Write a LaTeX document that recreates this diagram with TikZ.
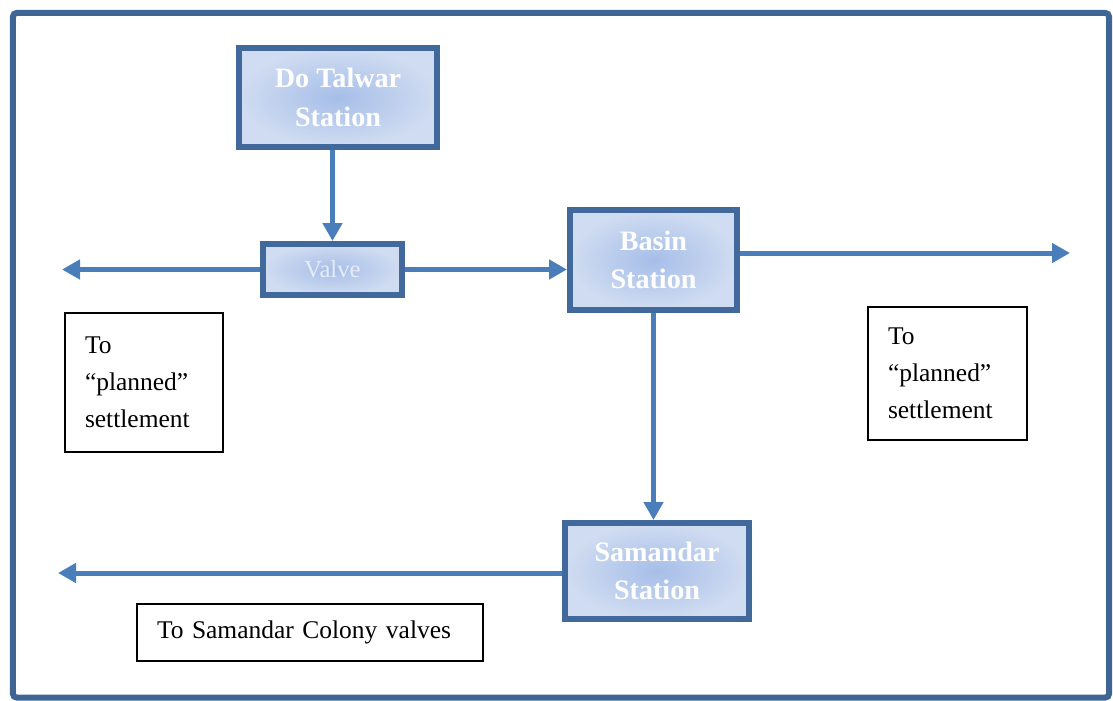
\documentclass[tikz,border=0pt]{standalone}
\usepackage{fontspec}
\setmainfont{Liberation Serif}
\usepackage{xcolor}
\usetikzlibrary{positioning,calc,arrows.meta}

\definecolor{framebl}{HTML}{3F6595}
\definecolor{pipebl}{HTML}{4A7EBB}
\definecolor{edgebl}{HTML}{41699C}
\definecolor{innerbl}{HTML}{A6BEE8}
\definecolor{outerbl}{HTML}{D0DCF1}
\definecolor{valvetxt}{HTML}{E6ECF7}

\tikzset{
    station/.style={draw=edgebl, line width=0.12cm, inner color=innerbl, outer color=outerbl,
        text=white, font=\fontsize{16}{22}\selectfont\bfseries, align=center, inner sep=0pt},
    note/.style={draw=black, line width=0.045cm, font=\fontsize{14.5}{21}\selectfont,
        align=left, inner xsep=0.4cm, inner ysep=0pt},
    pipe/.style={draw=pipebl, line width=0.1cm, -{Triangle[length=0.36cm,width=0.38cm]}},
}

\begin{document}
\begin{tikzpicture}
    \useasboundingbox (0, 0) rectangle (22.26, -14);
    \draw [framebl, line width=0.12cm, rounded corners=2pt] (0.26, -0.26) rectangle (22.18, -13.95); % outer frame

    % stations
    \node [station, minimum width=3.96cm, minimum height=1.98cm] (dotalwar) at (6.76, -1.95) {Do Talwar\\Station};
    \node [station, minimum width=2.78cm, minimum height=1.02cm, font=\fontsize{14}{18}\selectfont, text=valvetxt] (valve) at (6.65, -5.39) {Valve};
    \node [station, minimum width=3.34cm, minimum height=2.0cm] (basin) at (13.07, -5.2) {Basin\\Station};
    \node [station, minimum width=3.68cm, minimum height=1.92cm] (samandar) at (13.14, -11.42) {Samandar\\Station};

    % notes
    \node [note, text width=2.36cm, minimum height=2.78cm] (westnote) at (2.88, -7.65) {To\\``planned''\\settlement};
    \node [note, text width=2.38cm, minimum height=2.66cm] (eastnote) at (18.95, -7.47) {To\\``planned''\\settlement};
    \node [note, text width=6.12cm, minimum height=1.14cm] (colonynote) at (6.2, -12.65) {To Samandar Colony valves};

    % free pipe ends
    \coordinate (westend) at (1.24, -5.39);
    \coordinate (eastend) at (21.4, -5.06);
    \coordinate (southend) at (1.16, -11.46);

    \draw [pipe] (dotalwar.south -| valve.north) -- (valve.north);
    \draw [pipe] (valve.west) -- (westend);
    \draw [pipe] (valve.east) -- (valve.east -| basin.west);
    \draw [pipe] (basin.east |- eastend) -- (eastend);
    \draw [pipe] (basin.south) -- (basin.south |- samandar.north);
    \draw [pipe] (samandar.west |- southend) -- (southend);
\end{tikzpicture}
\end{document}
